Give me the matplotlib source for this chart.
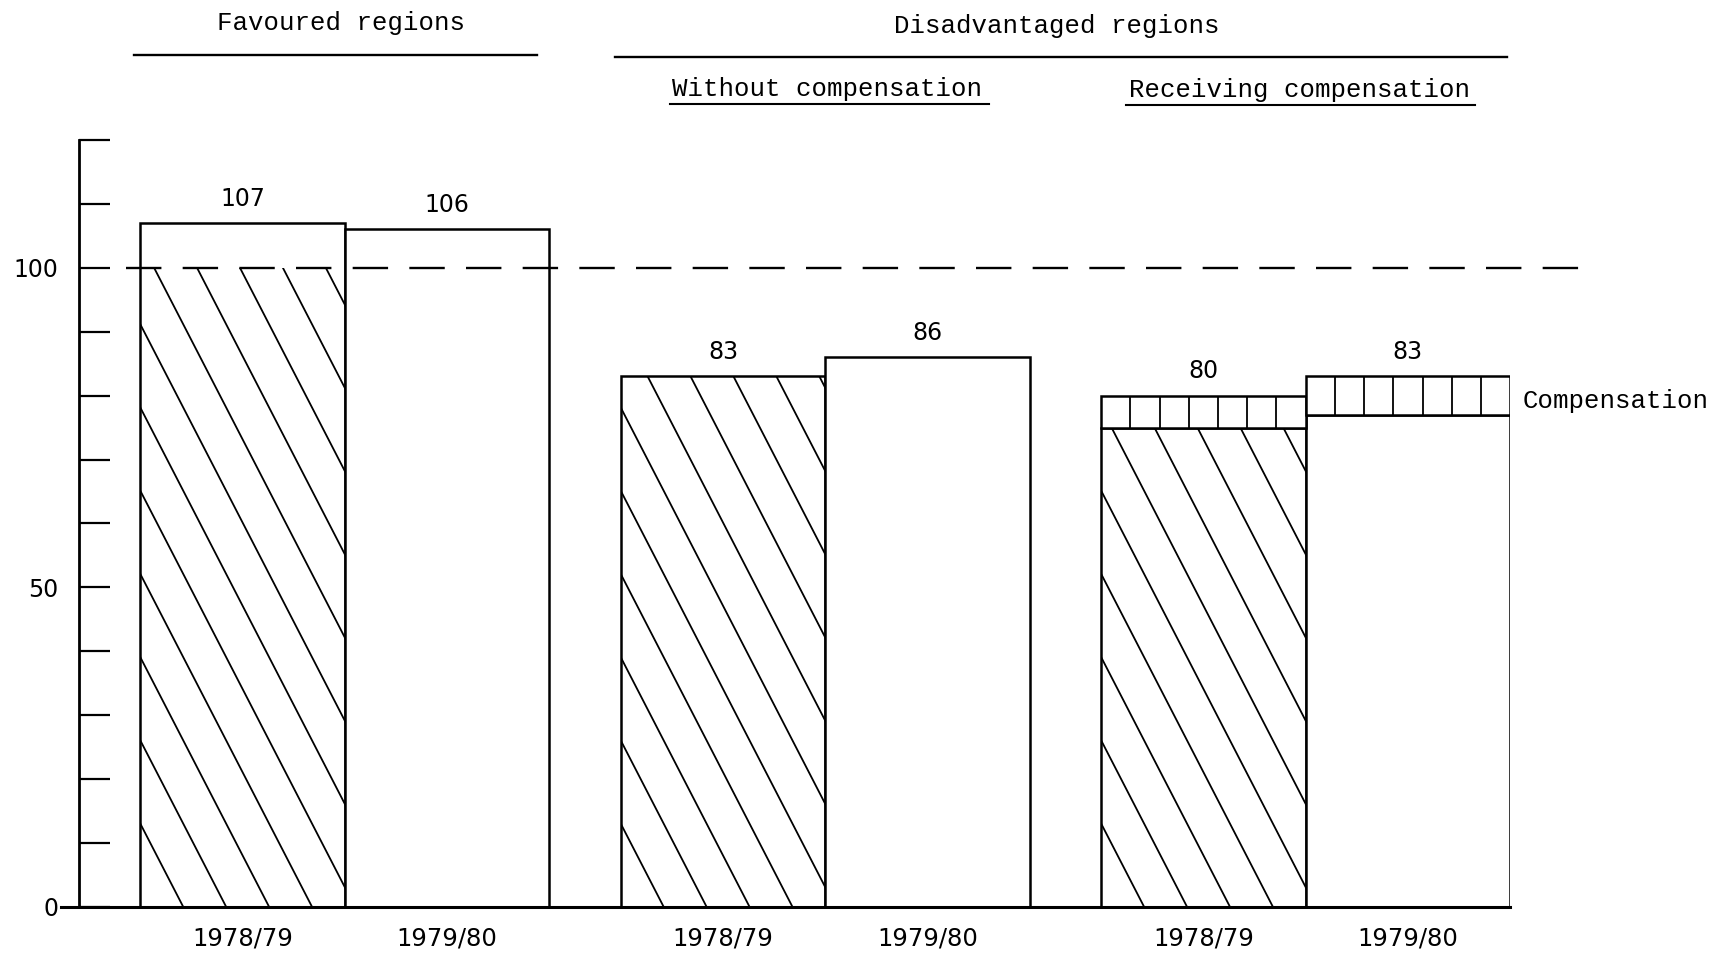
import numpy as np
import matplotlib.pyplot as plt

# ---------------- data ----------------
years = ["1978/79", "1979/80", "1978/79", "1979/80", "1978/79", "1979/80"]
totals = [107, 106, 83, 86, 80, 83]            # printed above the bars
own_income = [107, 106, 83, 86, 75, 77]        # part without compensation
compensation = [0, 0, 0, 0, 5, 6]              # compensation on top
hatched = [True, False, True, False, True, False]
reference = 100

group_names = ["Favoured regions", "Disadvantaged regions"]
sub_names = ["Without compensation", "Receiving compensation"]
comp_label = "Compensation"

# ---------------- layout ----------------
group_start = [0.3, 2.65, 5.0]
width = 1.0
x = np.array([g + off for g in group_start for off in (0.5, 1.5)])

mono = "Liberation Mono"
sans = "DejaVu Sans"

fig = plt.figure(figsize=(17.18, 9.63), dpi=100)
ax = fig.add_axes([0.046, 0.0582, 0.833, 0.7965])
ax.set_xlim(0, 7.0)
ax.set_ylim(0, 120)


def diag_hatch(rect, x0, x1, top):
    # steep "\" lines, clipped to the rectangle
    slope = 62.0   # y units per x unit (~63 deg on the page)
    step = 0.21
    for c in np.arange(x0 - top / slope - step, x1 + step, step):
        xs = np.array([c, c + top / slope + 0.2])
        ys = top - slope * (xs - c)
        ln, = ax.plot(xs, ys, color="black", lw=1.3)
        ln.set_clip_path(rect)


bars = ax.bar(x, own_income, width, color="white", edgecolor="black", lw=1.8, zorder=2)
for b, h, v in zip(bars, hatched, own_income):
    if h:
        x0 = b.get_x()
        top = min(v, reference)
        clip = plt.Rectangle((x0, 0), width, top, transform=ax.transData)
        diag_hatch(clip, x0, x0 + width, top)

# compensation part with vertical strokes
for xi, base, comp in zip(x, own_income, compensation):
    if comp > 0:
        ax.bar(xi, comp, width, bottom=base, color="white", edgecolor="black", lw=1.8, zorder=2)
        xs = np.linspace(xi - width / 2, xi + width / 2, 8)[1:-1]
        ax.vlines(xs, base, base + comp, color="black", lw=1.3, zorder=3)

# value labels
for xi, t in zip(x, totals):
    ax.text(xi, t + 3.8, str(t), ha="center", va="center", fontsize=17, family=sans)

# reference line
ax.plot([0.23, 7.37], [reference, reference], color="black", lw=1.7,
        linestyle=(0, (15, 9)), clip_on=False, zorder=4)

# compensation note
ax.text(7.06, own_income[5] + compensation[5] / 2 - 0.8, comp_label, ha="left", va="center",
        fontsize=18.5, family=mono)

# group headings
ax.text(1.28, 138.3, group_names[0], ha="center", va="center", fontsize=18.5, family=mono)
ax.plot([0.27, 2.24], [133.3, 133.3], color="black", lw=1.7, clip_on=False)
ax.text(4.78, 137.8, group_names[1], ha="center", va="center", fontsize=18.5, family=mono)
ax.plot([2.62, 6.985], [133.0, 133.0], color="black", lw=1.7, clip_on=False)

ax.text(3.66, 128.0, sub_names[0], ha="center", va="center", fontsize=18.5, family=mono)
ax.plot([2.89, 4.45], [125.6, 125.6], color="black", lw=1.5, clip_on=False)
ax.text(5.97, 127.8, sub_names[1], ha="center", va="center", fontsize=18.5, family=mono)
ax.plot([5.12, 6.83], [125.4, 125.4], color="black", lw=1.5, clip_on=False)

# axes
for s in ["top", "right", "bottom"]:
    ax.spines[s].set_visible(False)
ax.spines["left"].set_linewidth(2.0)
ax.plot([-0.09, 7.0], [0, 0], color="black", lw=2.2, clip_on=False, zorder=5)

yt = list(range(0, 121, 10))
ax.set_yticks(yt, [str(v) if v in (0, 50, 100) else "" for v in yt])
ax.tick_params(axis="y", direction="in", length=22, width=1.6, pad=15, labelsize=17)
ax.set_xticks(x, years)
ax.tick_params(axis="x", length=0, pad=14, labelsize=17.5)
for lab in ax.get_xticklabels() + ax.get_yticklabels():
    lab.set_family(sans)

fig.savefig("out.png", dpi=100, facecolor="white")
